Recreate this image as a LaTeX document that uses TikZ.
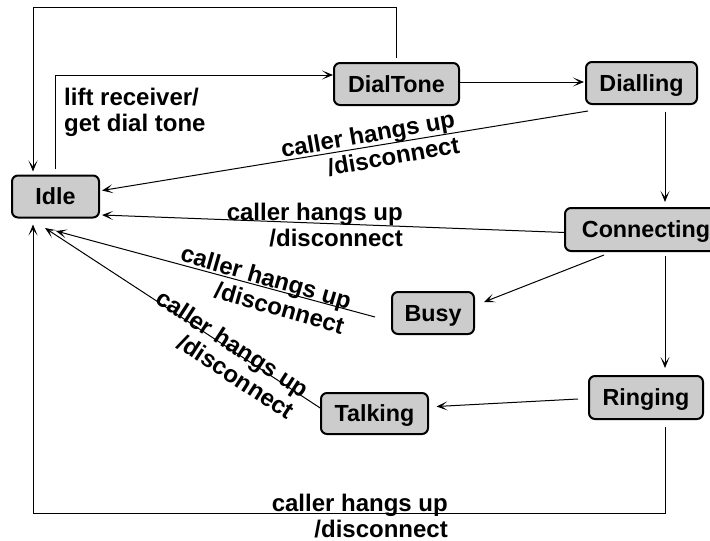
\documentclass[tikz,border=0pt]{standalone}
\usepackage{fontspec}
\setmainfont{Liberation Sans}
\usetikzlibrary{arrows.meta,calc}
\begin{document}
\begin{tikzpicture}[x=1pt,y=1pt,
  statebox/.style={draw, line width=2pt, rounded corners=6pt, fill=black!20,
    inner sep=0pt, text height=16.7pt, text depth=0pt,
    font=\fontsize{23.3}{26}\selectfont\bfseries},
  lbl/.style={inner sep=0pt, font=\fontsize{24}{26}\selectfont\bfseries},
  conn/.style={draw, line width=1pt, -{Stealth[length=11pt,width=9pt,inset=6pt]}}]
\useasboundingbox (0,0) rectangle (710,-541);
\clip (0,0) rectangle (710,-541);

% states
\node[statebox, minimum width=87pt,  minimum height=42pt] (Idle)       at (55.5,-196.5) {Idle};
\node[statebox, minimum width=125pt, minimum height=42pt] (DialTone)   at (396.5,-84)   {DialTone};
\node[statebox, minimum width=111pt, minimum height=42pt] (Dialling)   at (641.5,-83)   {Dialling};
\node[statebox, minimum width=162pt, minimum height=43pt] (Connecting) at (646,-229.5)  {Connecting};
\node[statebox, minimum width=82pt,  minimum height=42pt] (Busy)       at (433,-313)    {Busy};
\node[statebox, minimum width=107pt, minimum height=41pt] (Talking)    at (374.5,-413.5){Talking};
\node[statebox, minimum width=114pt, minimum height=43pt] (Ringing)    at (646,-397.5)  {Ringing};

% transitions
\draw[conn] ($(Idle.north)+(0,6)$) |- ($(DialTone.west)+(0,9)$);
\draw[conn] ($(DialTone.north)+(0,4)$) -- ++(0,51) -| ($(Idle.north west)+(22,3)$);
\draw[conn] ($(DialTone.east)+(0,2)$) -- ($(Dialling.west)+(-1,1)$);
\draw[conn] ($(Dialling.south west)+(3,-6)$) -- ($(Idle.east)+(2,6)$);
\draw[conn] ($(Dialling.south)+(23.5,-6.5)$) -- ($(Connecting.north)+(19,5)$);
\draw[conn] ($(Connecting.west)+(1,-3)$) -- ($(Idle.east)+(2,-18.5)$);
\draw[conn] ($(Connecting.south west)+(40,-3)$) -- ($(Busy.east)+(9,11)$);
\draw[conn] ($(Connecting.south)+(19,-4)$) -- ($(Ringing.north)+(19,7)$);
\draw[conn] ($(Busy.west)+(-16,-4)$) -- ($(Idle.south)+(0.5,-12.5)$);
\draw[conn] ($(Ringing.west)+(-10,-1.5)$) -- ($(Talking.east)+(7.5,7)$);
\draw[conn] ($(Talking.west)+(1,5)$) -- ($(Idle.south)+(-10.5,-9.5)$);
\draw[conn] ($(Ringing.south)+(19,-7)$) -- ++(0,-86) -| ($(Idle.south west)+(22,-6)$);

% transition labels
\node[lbl, align=left, anchor=west] (lLift) at (64,-112.75) {lift receiver/\\get dial tone};
\node[lbl, align=right, rotate=10] (lDial) at (370,-147) {caller hangs up\\/disconnect};
\node[lbl, align=right, anchor=east] (lConn) at (403,-225.1) {caller hangs up\\/disconnect};
\node[lbl, align=right, rotate=-16] (lBusy) at (262.7,-289.6) {caller hangs up\\/disconnect};
\node[lbl, align=right, rotate=-33] (lTalk) at (225.5,-354) {caller hangs up\\/disconnect};
\node[lbl, align=right, anchor=east] (lRing) at (448,-515.6) {caller hangs up\\/disconnect};
\end{tikzpicture}
\end{document}
